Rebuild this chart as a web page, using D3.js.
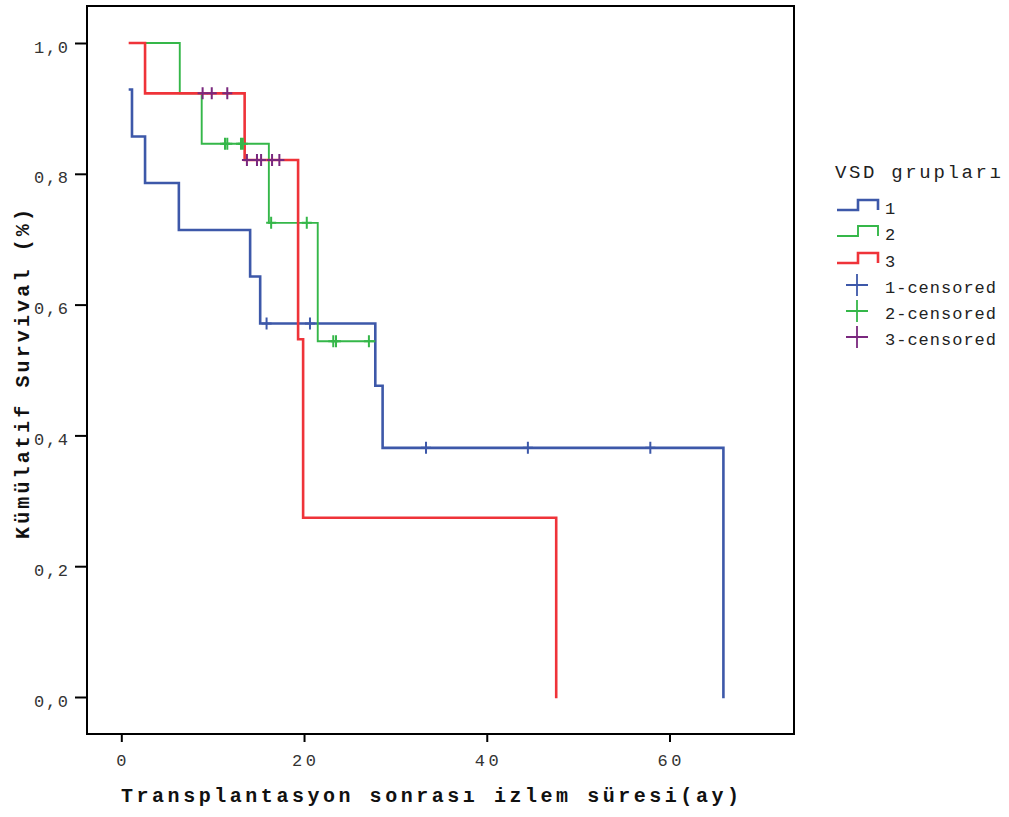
<!DOCTYPE html>
<html>
<head>
<meta charset="utf-8">
<script src="https://cdn.jsdelivr.net/npm/d3@7"></script>
<style>
  html, body { margin: 0; padding: 0; background: #ffffff; }
  svg { display: block; }
  text { font-family: "Liberation Mono", "Courier New", monospace; fill: #222; }
</style>
</head>
<body>
<svg id="chart" width="1009" height="817"></svg>
<script>
// ---- data ----
const groupNames = ["1", "2", "3"];
const xTicks = [0, 20, 40, 60];
const yTicks = [0, 0.2, 0.4, 0.6, 0.8, 1.0];
const yTickLabels = ["0,0", "0,2", "0,4", "0,6", "0,8", "1,0"];

// group 1 (blue) step curve: time, survival after that time
const g1Times = [0.95, 1.17, 2.6, 6.3, 14.1, 15.2, 27.8, 28.6, 65.9];
const g1Surv  = [0.929, 0.857, 0.786, 0.714, 0.643, 0.571, 0.476, 0.381, 0.0];
const g1Censor = [15.9, 20.65, 33.35, 44.5, 57.9];

// group 2 (green)
const g2Times = [1.0, 6.4, 8.8, 16.15, 21.5, 27.7];
const g2Surv  = [1.0, 0.923, 0.846, 0.725, 0.544, 0.544];
const g2Censor = [11.35, 11.6, 13.1, 13.3, 16.4, 20.3, 23.2, 23.5, 27.1];

// group 3 (red)
const g3Times = [0.95, 2.6, 13.5, 19.35, 19.9, 47.6];
const g3Surv  = [1.0, 0.923, 0.821, 0.547, 0.274, 0.0];
const g3Censor = [8.9, 9.9, 11.6, 13.75, 14.85, 15.3, 16.5, 17.3];

const lineColors = ["#3d58a9", "#35b749", "#ef3339"];
const censorColors = ["#3d58a9", "#35b749", "#7a287e"];
const lineWidths = [2.6, 1.9, 2.6];

// ---- layout ----
const svg = d3.select("#chart");
const frame = {left: 87, top: 6, right: 794, bottom: 734};
const x = d3.scaleLinear().domain([0, 60]).range([121.3, 669.5]);
const y = d3.scaleLinear().domain([0, 1]).range([697, 43]);

// frame
svg.append("rect")
  .attr("x", frame.left).attr("y", frame.top)
  .attr("width", frame.right - frame.left).attr("height", frame.bottom - frame.top)
  .attr("fill", "none").attr("stroke", "#000").attr("stroke-width", 2);

// y axis ticks
const yAxis = d3.axisLeft(y).tickValues(yTicks).tickSize(12).tickFormat("");
const gy = svg.append("g").attr("transform", `translate(${frame.left},0)`).call(yAxis);
gy.select(".domain").remove();
gy.selectAll(".tick line").attr("stroke", "#000").attr("stroke-width", 2);
svg.append("g").selectAll("text").data(yTicks).join("text")
  .attr("x", 34).attr("y", d => y(d) + 9.5)
  .attr("font-size", 17).style("fill", "#333")
  .attr("textLength", 34).attr("lengthAdjust", "spacing")
  .text((d, i) => yTickLabels[i]);

// x axis ticks
const xAxis = d3.axisBottom(x).tickValues(xTicks).tickSize(8).tickFormat("");
const gx = svg.append("g").attr("transform", `translate(0,${frame.bottom})`).call(xAxis);
gx.select(".domain").remove();
gx.selectAll(".tick line").attr("stroke", "#000").attr("stroke-width", 2);
svg.append("g").selectAll("text").data(xTicks).join("text")
  .attr("x", d => x(d)).attr("y", 766)
  .attr("text-anchor", "middle")
  .attr("font-size", 17).style("fill", "#333")
  .attr("textLength", d => String(d).length === 1 ? 10 : 24)
  .attr("lengthAdjust", "spacing")
  .text(d => d);

// axis titles
svg.append("text")
  .attr("x", 430).attr("y", 802)
  .attr("text-anchor", "middle")
  .attr("font-size", 20).attr("font-weight", "bold").style("fill", "#111")
  .attr("textLength", 618).attr("lengthAdjust", "spacing")
  .text("Transplantasyon sonrası izlem süresi(ay)");

svg.append("text")
  .attr("transform", "translate(29,374) rotate(-90)")
  .attr("text-anchor", "middle")
  .attr("font-size", 20).attr("font-weight", "bold").style("fill", "#111")
  .attr("textLength", 330).attr("lengthAdjust", "spacing")
  .text("Kümülatif Survival (%)");

// ---- curves ----
const groups = [
  {times: g1Times, surv: g1Surv, censor: g1Censor},
  {times: g2Times, surv: g2Surv, censor: g2Censor},
  {times: g3Times, surv: g3Surv, censor: g3Censor}
];

function survAt(g, t) {
  let s = g.surv[0];
  for (let i = 0; i < g.times.length; i++) { if (g.times[i] <= t) s = g.surv[i]; }
  return s;
}

const line = d3.line().x(d => x(d.t)).y(d => y(d.s)).curve(d3.curveStepAfter);
const curveLayer = svg.append("g");
groups.forEach((g, gi) => {
  const pts = g.times.map((t, i) => ({t, s: g.surv[i]}));
  curveLayer.append("path")
    .attr("d", line(pts))
    .attr("fill", "none")
    .attr("stroke", lineColors[gi])
    .attr("stroke-width", lineWidths[gi])
    .attr("stroke-linejoin", "miter")
    .attr("stroke-linecap", "square");
});

// censor marks
const markLayer = svg.append("g");
groups.forEach((g, gi) => {
  g.censor.forEach(t => {
    const cx = x(t), cy = y(survAt(g, t));
    markLayer.append("path")
      .attr("d", `M${cx - 5},${cy}H${cx + 5}M${cx},${cy - 6}V${cy + 6}`)
      .attr("stroke", censorColors[gi])
      .attr("stroke-width", 2)
      .attr("fill", "none");
  });
});

// ---- legend ----
const leg = svg.append("g");
leg.append("text").attr("x", 835).attr("y", 178)
  .attr("font-size", 19)
  .attr("textLength", 166).attr("lengthAdjust", "spacing")
  .text("VSD grupları");

const stepRowsY = [210, 236, 263];
groupNames.forEach((name, i) => {
  const yy = stepRowsY[i];
  leg.append("path")
    .attr("d", `M837,${yy}H858V${yy - 10}H878V${yy}`)
    .attr("fill", "none")
    .attr("stroke", lineColors[i])
    .attr("stroke-width", lineWidths[i]);
  leg.append("text").attr("x", 885).attr("y", yy + 4)
    .attr("font-size", 17).text(name);
});

const censorRowsY = [285, 311, 337];
groupNames.forEach((name, i) => {
  const yy = censorRowsY[i];
  leg.append("path")
    .attr("d", `M846,${yy}H868M857,${yy - 11}V${yy + 11}`)
    .attr("fill", "none")
    .attr("stroke", censorColors[i])
    .attr("stroke-width", 1.8);
  leg.append("text").attr("x", 885).attr("y", yy + 8)
    .attr("font-size", 17)
    .attr("textLength", 111).attr("lengthAdjust", "spacing")
    .text(name + "-censored");
});
</script>
</body>
</html>
